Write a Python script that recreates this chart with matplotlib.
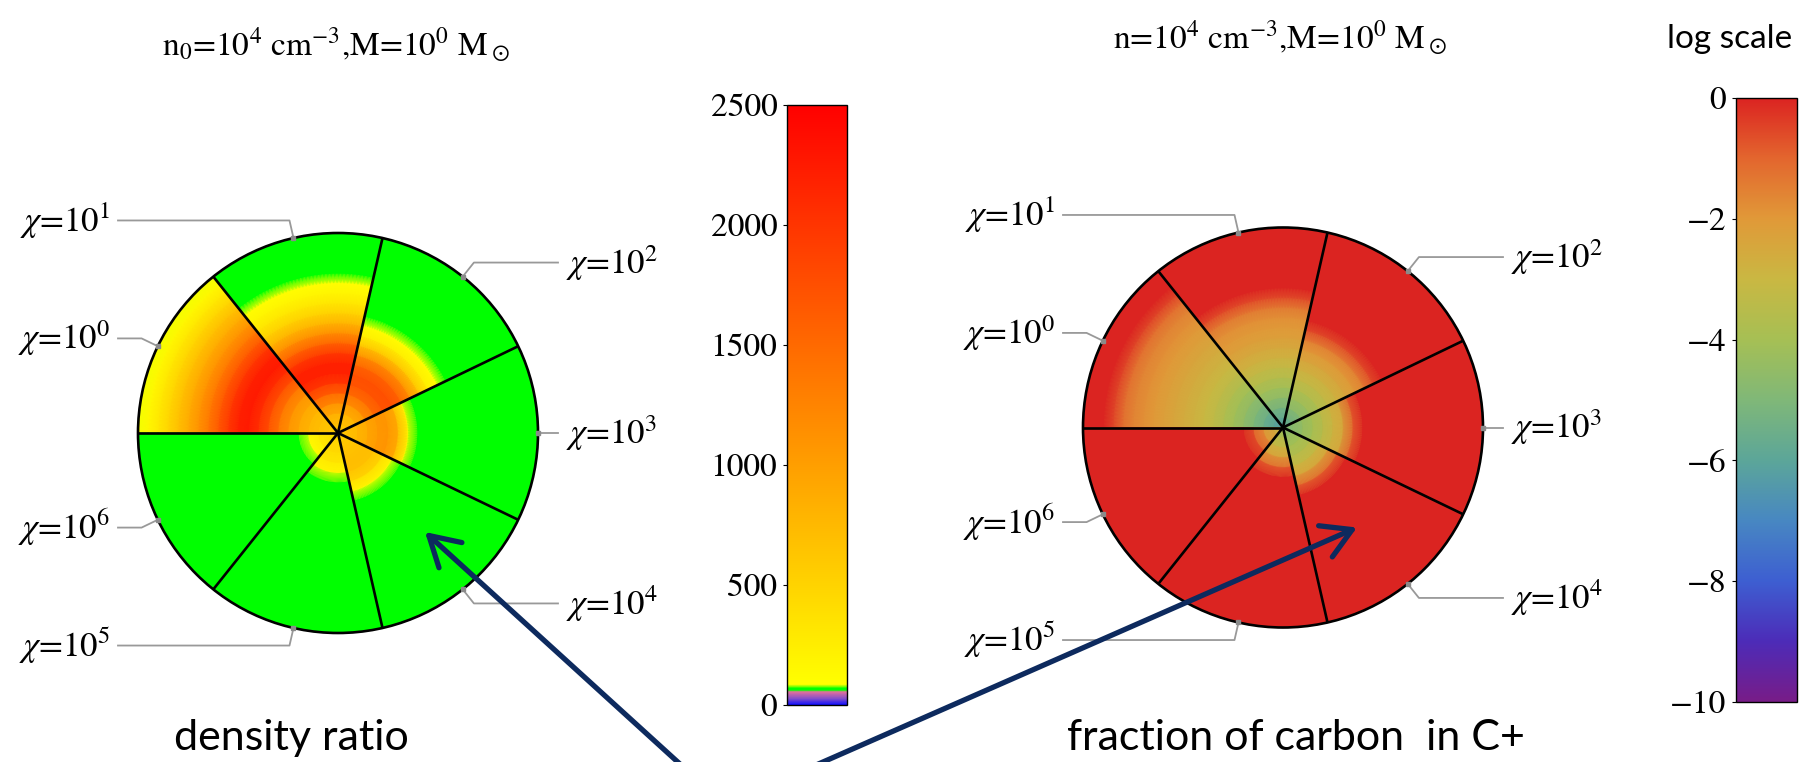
import numpy as np
import matplotlib
matplotlib.use("Agg")
import matplotlib.pyplot as plt
from matplotlib.colors import LinearSegmentedColormap, Normalize
from matplotlib.cm import ScalarMappable
from matplotlib.patches import Circle

plt.rcParams["mathtext.fontset"] = "stix"

W, H = 1813, 762

# --- data ----------------------------------------------------------------
chi_labels = [r"$\chi$=10$^{0}$", r"$\chi$=10$^{1}$", r"$\chi$=10$^{2}$", r"$\chi$=10$^{3}$",
              r"$\chi$=10$^{4}$", r"$\chi$=10$^{5}$", r"$\chi$=10$^{6}$"]

# radial positions (fraction of the cloud radius) where profiles were read
radii = [0.0, 0.05, 0.1, 0.15, 0.2, 0.25, 0.3, 0.35, 0.4, 0.45, 0.5,
         0.55, 0.6, 0.65, 0.7, 0.75, 0.8, 0.85, 0.9, 0.95, 1.0]

# density ratio, one profile per chi sector
dens_chi0 = [600, 620, 680, 780, 920, 1120, 1400, 1750, 2050, 2250, 2200,
             1950, 1650, 1350, 1100, 880, 680, 480, 300, 150, 85]
dens_chi1 = [600, 680, 850, 1150, 1550, 1950, 2200, 2200, 1950, 1550, 1150,
             800, 520, 320, 180, 95, 65, 65, 65, 65, 65]
dens_chi2 = [600, 650, 800, 1100, 1450, 1700, 1750, 1550, 1150, 650, 250,
             90, 65, 65, 65, 65, 65, 65, 65, 65, 65]
dens_chi3 = [600, 650, 750, 900, 1050, 1100, 850, 150, 65, 65, 65,
             65, 65, 65, 65, 65, 65, 65, 65, 65, 65]
dens_chi4 = [550, 580, 650, 700, 680, 450, 110, 65, 65, 65, 65,
             65, 65, 65, 65, 65, 65, 65, 65, 65, 65]
dens_chi5 = [500, 480, 420, 320, 140, 65, 65, 65, 65, 65, 65,
             65, 65, 65, 65, 65, 65, 65, 65, 65, 65]
dens_chi6 = [450, 400, 280, 90, 65, 65, 65, 65, 65, 65, 65,
             65, 65, 65, 65, 65, 65, 65, 65, 65, 65]

# log10 fraction of carbon in C+, one profile per chi sector
cplus_chi0 = [-6.3, -6.0, -5.5, -5.0, -4.5, -4.1, -3.7, -3.3, -3.0, -2.8, -2.6,
              -2.4, -2.2, -2.0, -1.8, -1.6, -1.2, -0.5, 0.0, 0.0, 0.0]
cplus_chi1 = [-6.3, -5.8, -5.2, -4.6, -4.1, -3.6, -3.2, -2.8, -2.5, -2.2, -2.0,
              -1.8, -1.4, -0.6, 0.0, 0.0, 0.0, 0.0, 0.0, 0.0, 0.0]
cplus_chi2 = [-6.0, -5.4, -4.7, -4.2, -3.7, -3.2, -2.8, -2.4, -2.0, -1.5, -0.6,
              0.0, 0.0, 0.0, 0.0, 0.0, 0.0, 0.0, 0.0, 0.0, 0.0]
cplus_chi3 = [-5.0, -4.8, -4.4, -4.0, -3.5, -2.9, -2.4, -0.9, 0.0, 0.0, 0.0,
              0.0, 0.0, 0.0, 0.0, 0.0, 0.0, 0.0, 0.0, 0.0, 0.0]
cplus_chi4 = [-4.8, -4.4, -4.0, -3.6, -3.0, -2.3, -1.0, 0.0, 0.0, 0.0, 0.0,
              0.0, 0.0, 0.0, 0.0, 0.0, 0.0, 0.0, 0.0, 0.0, 0.0]
cplus_chi5 = [-4.3, -3.7, -3.0, -2.2, -1.0, 0.0, 0.0, 0.0, 0.0, 0.0, 0.0,
              0.0, 0.0, 0.0, 0.0, 0.0, 0.0, 0.0, 0.0, 0.0, 0.0]
cplus_chi6 = [-3.0, -2.6, -1.9, -0.8, 0.0, 0.0, 0.0, 0.0, 0.0, 0.0, 0.0,
              0.0, 0.0, 0.0, 0.0, 0.0, 0.0, 0.0, 0.0, 0.0, 0.0]

dens_ticks = [0, 500, 1000, 1500, 2000, 2500]
cplus_ticks = [0, -2, -4, -6, -8, -10]

dens_cmap = LinearSegmentedColormap.from_list("dens", [
    (0.0, (0.05, 0.05, 1.0)), (0.010, (0.5, 0.3, 0.8)), (0.022, (0.9, 0.45, 0.6)),
    (0.0245, (0.0, 1.0, 0.0)), (0.0275, (0.0, 1.0, 0.0)), (0.034, (1.0, 1.0, 0.0)),
    (1.0, (1.0, 0.0, 0.0))], N=2048)
cplus_cmap = LinearSegmentedColormap.from_list("cplus", [
    (0.47, 0.11, 0.53), (0.30, 0.17, 0.72), (0.24, 0.37, 0.82), (0.28, 0.53, 0.76),
    (0.36, 0.65, 0.60), (0.50, 0.72, 0.47), (0.65, 0.75, 0.33), (0.79, 0.72, 0.26),
    (0.88, 0.60, 0.22), (0.89, 0.40, 0.18), (0.86, 0.14, 0.13)], N=1024)
dens_norm = Normalize(0, 2500)
cplus_norm = Normalize(-10, 0)

NAVY = "#0d2a5e"
GREY = "#999999"
L = 1.25  # half-width of pie axes in units of the radius


def pie_axes(fig, cx, cy, R):
    ax = fig.add_axes([(cx - L * R) / W, (H - cy - L * R) / H, 2 * L * R / W, 2 * L * R / H])
    ax.set_xlim(-L, L)
    ax.set_ylim(-L, L)
    ax.axis("off")
    return ax


def draw_pie(ax, profiles, cmap, norm):
    n = len(profiles)
    step = 360.0 / n
    r = np.asarray(radii)
    for k, prof in enumerate(profiles):
        th = np.deg2rad(np.linspace(180 - (k + 1) * step, 180 - k * step, 40))
        rr, tt = np.meshgrid(r, th, indexing="ij")
        c = np.repeat(np.asarray(prof, float)[:, None], th.size, axis=1)
        ax.pcolormesh(rr * np.cos(tt), rr * np.sin(tt), c, shading="gouraud",
                      cmap=cmap, norm=norm)
    for k in range(n):
        a = np.deg2rad(180 - k * step)
        ax.plot([0, np.cos(a)], [0, np.sin(a)], color="k", lw=1.9, solid_capstyle="butt")
    ax.add_patch(Circle((0, 0), 1, fill=False, ec="k", lw=1.9))
    # callout labels
    for k, lab in enumerate(chi_labels):
        m = np.deg2rad(180 - (k + 0.5) * step)
        side = 1 if np.cos(m) > 0 else -1
        px, py = np.cos(m), np.sin(m)
        ex, ey = 1.09 * px, 1.09 * py
        ax.plot([px, ex, side * 1.1], [py, ey, ey], color=GREY, lw=1.3)
        ax.plot(px, py, "s", color="#8a8a8a", ms=3.5)
        ax.text(side * 1.14, ey, lab, ha="left" if side > 0 else "right", va="center",
                fontsize=25, family="STIXGeneral")


def colorbar(fig, rect_px, cmap, norm, ticks):
    x0, y0, w, h = rect_px
    cax = fig.add_axes([x0 / W, (H - y0 - h) / H, w / W, h / H])
    cb = fig.colorbar(ScalarMappable(norm=norm, cmap=cmap), cax=cax, ticks=ticks)
    cax.yaxis.set_ticks_position("left")
    cax.tick_params(length=3, width=0.8, labelsize=24, pad=4)
    for t in cax.get_yticklabels():
        t.set_fontfamily("STIXGeneral")
    cb.outline.set_linewidth(1.0)
    return cb


fig = plt.figure(figsize=(W / 100, H / 100), dpi=100)

ax1 = pie_axes(fig, 338, 433, 200)
draw_pie(ax1, [dens_chi0, dens_chi1, dens_chi2, dens_chi3, dens_chi4, dens_chi5, dens_chi6],
         dens_cmap, dens_norm)
ax2 = pie_axes(fig, 1283, 427.5, 200)
draw_pie(ax2, [cplus_chi0, cplus_chi1, cplus_chi2, cplus_chi3, cplus_chi4, cplus_chi5, cplus_chi6],
         cplus_cmap, cplus_norm)

colorbar(fig, (787, 105, 60, 600), dens_cmap, dens_norm, dens_ticks)
colorbar(fig, (1736, 98, 61, 604), cplus_cmap, cplus_norm, cplus_ticks)

# titles and captions
fig.text(336 / W, (H - 45) / H, r"n$_0$=10$^4$ cm$^{-3}$,M=10$^0$ M$_\odot$", ha="center",
         va="center", fontsize=24, family="STIXGeneral")
fig.text(1280 / W, (H - 38) / H, r"n=10$^4$ cm$^{-3}$,M=10$^0$ M$_\odot$", ha="center",
         va="center", fontsize=24, family="STIXGeneral")
fig.text(1730 / W, (H - 39) / H, "log scale", ha="center", va="center", fontsize=24, family="Lato")
fig.text(291 / W, (H - 750) / H, "density ratio", ha="center", va="baseline",
         fontsize=31, family="Lato")
fig.text(1296 / W, (H - 750) / H, "fraction of carbon  in C+", ha="center", va="baseline",
         fontsize=31, family="Lato")

# arrows from below the frame into each cloud
tail = (725 / W, (H - 805) / H)
arrow = dict(arrowstyle="->,head_length=0.6,head_width=0.35", lw=3.8, color=NAVY,
             shrinkA=0, shrinkB=0, mutation_scale=35)
ax1.annotate("", xy=(0.435, -0.495), xytext=tail, textcoords="figure fraction",
             arrowprops=arrow, annotation_clip=False)
ax2.annotate("", xy=(0.37, -0.50), xytext=tail, textcoords="figure fraction",
             arrowprops=arrow, annotation_clip=False)

fig.savefig("out.png", dpi=100)
